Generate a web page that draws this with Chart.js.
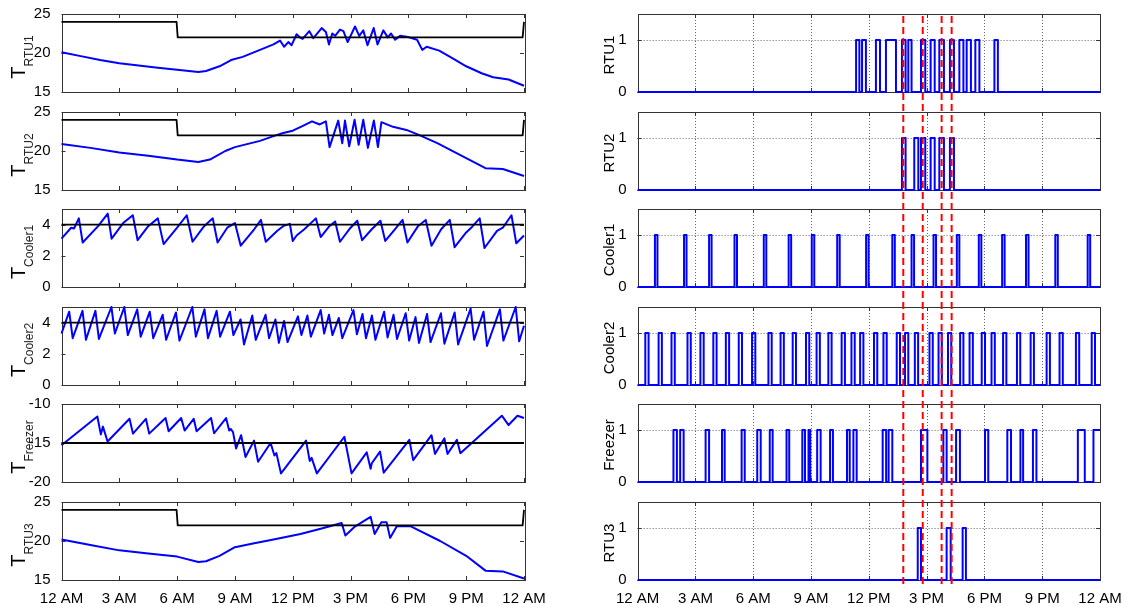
<!DOCTYPE html>
<html>
<head>
<meta charset="utf-8">
<script src="https://cdn.jsdelivr.net/npm/chart.js@4.4.1/dist/chart.umd.min.js"></script>
<style>
    body { margin: 0; background: #fff; width: 1127px; height: 604px; overflow: hidden; position: relative;
           font-family: "Liberation Sans", Arial, sans-serif; }
    canvas { position: absolute; }
    .yl { position: absolute; width: 120px; height: 30px; line-height: 30px; text-align: center;
          transform: rotate(-90deg); white-space: nowrap; color: #000; }
    .yl.t { font-size: 20px; }
    .yl.t .sb { font-size: 12px; position: relative; top: 8px; color: #222; }
    .yl.r { font-size: 15px; }
</style>
</head>
<body>
<script>
// ---- axis ticks ----
const hourTicks = [0, 3, 6, 9, 12, 15, 18, 21, 24];
const hourLabels = ['12 AM', '3 AM', '6 AM', '9 AM', '12 PM', '3 PM', '6 PM', '9 PM', '12 AM'];
const rtuTicks = [15, 20, 25];
const coolerTicks = [0, 2, 4];
const freezerTicks = [-20, -15, -10];
const onOffTicks = [0, 1];

// ---- setpoints (black) ----
const rtuSetpoint = [[0, 24], [5.97, 24], [6.03, 22], [23.93, 22], [24, 24]];
const coolerSetpoint = [[0, 4], [24, 4]];
const freezerSetpoint = [[0, -15], [24, -15]];

// ---- temperatures [hour, value] ----
const rtu1Temp = [[0, 20.1], [1, 19.6], [2, 19.1], [3, 18.7], [4, 18.4], [5, 18.1], [6, 17.85], [7.1, 17.55], [7.5, 17.7],
    [8.2, 18.3], [8.8, 19.1], [9.4, 19.5], [10.3, 20.4], [11.0, 21.1], [11.34, 21.6], [11.55, 20.8], [11.77, 21.4],
    [11.94, 21.0], [12.2, 22.4], [12.37, 22.0], [12.51, 21.8], [12.86, 22.8], [13.07, 21.9], [13.5, 23.2], [13.72, 22.7],
    [13.88, 21.1], [14.05, 22.5], [14.2, 22.2], [14.45, 23.0], [14.63, 22.8], [14.85, 21.4], [15.23, 23.4], [15.45, 22.2],
    [15.66, 22.9], [15.88, 21.0], [16.2, 23.2], [16.4, 21.1], [16.7, 22.9], [16.93, 22.0], [17.1, 22.5], [17.31, 21.7],
    [17.57, 22.2], [17.91, 22.1], [18.45, 21.7], [18.72, 20.4], [18.95, 20.8], [19.6, 20.3], [20.3, 19.3], [21, 18.3],
    [21.8, 17.4], [22.4, 16.9], [23.2, 16.6], [24, 15.8]];
const rtu2Temp = [[0, 20.9], [1.5, 20.4], [3, 19.8], [4.5, 19.4], [6, 18.9], [7.1, 18.6], [7.7, 18.9], [8.5, 20.0], [9, 20.5],
    [10.3, 21.3], [11, 21.9], [11.5, 22.3], [12, 22.6], [12.5, 23.2], [13, 23.8], [13.4, 23.4], [13.72, 23.8], [13.91, 20.5],
    [14.36, 23.9], [14.57, 21.0], [14.71, 23.9], [14.93, 20.6], [15.21, 24.0], [15.42, 20.8], [15.66, 24.0], [15.9, 20.4],
    [16.21, 23.9], [16.42, 20.5], [16.6, 23.7], [17.2, 23.1], [17.9, 22.7], [18.6, 22.0], [19.5, 21.0], [21, 19.1],
    [22, 17.8], [22.9, 17.7], [24, 16.8]];
const cooler1Temp = [[0, 3.1], [0.5, 3.8], [0.65, 3.75], [0.9, 4.4], [1.1, 2.85], [1.9, 3.9], [2.4, 4.7], [2.6, 3.1],
    [3.2, 4.1], [3.7, 4.6], [3.95, 3.0], [4.5, 3.9], [5.0, 4.4], [5.3, 2.75], [6.0, 3.8], [6.5, 4.6], [6.8, 2.9], [7.4, 3.9],
    [7.85, 4.4], [8.1, 2.85], [8.6, 3.8], [9.0, 4.1], [9.3, 2.65], [10.0, 3.7], [10.35, 4.3], [10.6, 2.9], [11.2, 3.6],
    [11.5, 3.9], [11.85, 4.05], [12.0, 2.95], [12.2, 3.3], [12.6, 3.7], [13.2, 4.4], [13.45, 3.2], [13.9, 3.9], [14.2, 4.2],
    [14.45, 2.9], [15.0, 3.8], [15.35, 4.25], [15.6, 3.0], [16.1, 3.7], [16.55, 4.25], [16.8, 2.95], [17.3, 3.7],
    [17.7, 4.3], [17.95, 2.85], [18.5, 3.9], [18.9, 4.3], [19.2, 2.65], [19.7, 3.7], [20.15, 4.3], [20.4, 2.55],
    [21.0, 3.5], [21.3, 3.85], [21.7, 4.4], [21.95, 2.5], [22.6, 3.6], [22.9, 3.8], [23.35, 4.6], [23.6, 2.8], [24, 3.3]];
const cooler2Temp = [[0, 3.3], [0.40, 4.7], [0.58, 3.0], [1.09, 4.75], [1.27, 2.9], [1.76, 4.75], [1.94, 2.95], [2.59, 5.0],
    [2.77, 3.3], [3.26, 5.0], [3.44, 3.2], [3.93, 4.85], [4.11, 3.1], [4.58, 4.7], [4.76, 3.0], [5.25, 4.5], [5.43, 2.9],
    [5.94, 4.65], [6.12, 2.85], [6.79, 5.0], [6.97, 3.1], [7.42, 4.85], [7.60, 3.0], [8.05, 4.75], [8.23, 3.1], [8.74, 4.7],
    [8.92, 3.2], [9.29, 4.2], [9.47, 2.6], [9.90, 4.45], [10.08, 2.9], [10.59, 4.5], [10.77, 3.0], [11.10, 4.2], [11.28, 2.7],
    [11.55, 4.1], [11.73, 2.75], [12.27, 4.4], [12.45, 3.2], [12.76, 4.45], [12.94, 3.1], [13.45, 4.8], [13.63, 3.3],
    [13.88, 4.5], [14.06, 3.2], [14.39, 4.3], [14.57, 3.0], [15.15, 4.8], [15.33, 3.25], [15.62, 4.55], [15.80, 3.0],
    [16.11, 4.45], [16.29, 2.9], [16.74, 4.7], [16.92, 3.05], [17.23, 4.5], [17.41, 2.95], [17.86, 4.6], [18.04, 2.85],
    [18.37, 4.35], [18.55, 2.7], [18.97, 4.55], [19.15, 2.75], [19.69, 4.6], [19.87, 2.65], [20.40, 4.65], [20.58, 2.6],
    [21.23, 4.9], [21.41, 2.9], [21.90, 4.7], [22.08, 2.5], [22.75, 4.85], [22.93, 2.85], [23.57, 5.0], [23.75, 2.8], [24, 3.8]];
const freezerTemp = [[0, -15.3], [1.86, -11.6], [2.04, -13.9], [2.15, -12.9], [2.39, -14.8], [3.53, -11.9], [3.71, -13.8],
    [4.38, -11.9], [4.55, -13.8], [5.40, -11.8], [5.56, -13.5], [6.21, -11.8], [6.39, -13.4], [6.86, -11.9], [7.01, -13.5],
    [7.76, -11.8], [7.92, -13.75], [8.54, -11.8], [8.70, -13.4], [8.78, -13.2], [8.90, -13.6], [9.06, -15.7], [9.32, -14.0],
    [9.55, -16.8], [9.99, -14.7], [10.2, -17.4], [10.85, -15.0], [11.05, -16.6], [11.15, -16.3], [11.39, -18.9],
    [12.69, -14.7], [12.88, -17.3], [12.98, -16.9], [13.25, -18.9], [14.68, -14.2], [15.05, -18.9], [15.84, -16.2],
    [16.04, -18.3], [16.10, -17.6], [16.53, -16.1], [16.72, -18.8], [18.05, -14.6], [18.25, -17.2], [19.2, -14.0],
    [19.38, -16.4], [19.87, -14.4], [20.03, -16.4], [20.52, -14.6], [20.70, -16.3], [22.85, -11.5], [23.2, -12.7],
    [23.66, -11.5], [24, -11.8]];
const rtu3Temp = [[0, 20.2], [1.5, 19.5], [3, 18.8], [4.5, 18.4], [6, 18.0], [7.1, 17.3], [7.5, 17.4], [8.2, 18.1], [9, 19.2],
    [10, 19.7], [11, 20.2], [12.4, 20.9], [13.5, 21.6], [14.54, 22.3], [14.73, 20.7], [15.2, 21.8], [16.04, 23.1],
    [16.25, 20.9], [16.6, 22.4], [16.87, 22.4], [17.05, 20.4], [17.4, 21.9], [18.1, 21.9], [19.65, 20.0], [21, 18.1],
    [22, 16.2], [22.9, 16.1], [24, 15.2]];

// ---- on periods [start, end] in hours ----
const rtu1On = [[11.34, 11.51], [11.65, 11.85], [12.37, 12.58], [12.89, 13.41], [13.72, 13.91], [14.05, 14.22], [14.71, 14.93],
    [15.21, 15.42], [15.66, 15.90], [16.21, 16.42], [16.70, 16.91], [17.08, 17.30], [17.53, 17.74], [18.52, 18.70]];
const rtu2On = [[13.72, 13.91], [14.36, 14.57], [14.71, 14.93], [15.21, 15.42], [15.66, 15.90], [16.21, 16.42]];
const cooler1On = [[0.90, 1.03], [2.41, 2.54], [3.71, 3.84], [5.03, 5.16], [6.55, 6.68], [7.84, 7.97], [9.04, 9.17],
    [10.36, 10.49], [11.86, 11.99], [13.22, 13.35], [14.22, 14.35], [15.36, 15.49], [16.57, 16.70], [17.71, 17.84],
    [18.92, 19.05], [20.16, 20.29], [21.68, 21.81], [23.36, 23.49]];
const cooler2On = [[0.40, 0.57], [1.09, 1.26], [1.76, 1.93], [2.59, 2.76], [3.26, 3.43], [3.93, 4.10], [4.58, 4.75],
    [5.25, 5.42], [5.94, 6.11], [6.79, 6.96], [7.42, 7.59], [8.05, 8.22], [8.74, 8.91], [9.29, 9.46], [9.90, 10.07],
    [10.59, 10.76], [11.10, 11.27], [11.55, 11.72], [12.27, 12.44], [12.76, 12.93], [13.45, 13.62], [13.88, 14.05],
    [14.39, 14.56], [15.15, 15.32], [15.62, 15.79], [16.11, 16.28], [16.74, 16.91], [17.23, 17.40], [17.86, 18.03],
    [18.37, 18.54], [18.97, 19.14], [19.69, 19.86], [20.40, 20.57], [21.23, 21.40], [21.90, 22.07], [22.75, 22.92],
    [23.57, 23.74]];
const freezerOn = [[1.86, 2.04], [2.21, 2.39], [3.53, 3.71], [4.38, 4.52], [5.40, 5.56], [6.21, 6.39], [6.86, 7.01],
    [7.73, 7.87], [8.55, 8.69], [8.87, 8.96], [9.32, 9.50], [9.99, 10.14], [10.87, 11.01], [11.20, 11.37], [12.72, 12.90],
    [13.03, 13.22], [14.71, 15.04], [15.87, 16.04], [16.53, 16.73], [18.03, 18.20], [19.19, 19.38], [19.87, 20.01],
    [20.52, 20.70], [22.85, 23.21], [23.66, 24]];
const rtu3On = [[14.54, 14.71], [16.04, 16.25], [16.87, 17.04]];

// red dashed event markers (hours)
const redMarks = [13.79, 14.80, 15.78, 16.30];

// ---- layout ----
const PANEL_TOPS = [14, 111.5, 209, 306.5, 404, 501.5];
const PANEL_H = 78;
const BLUE = '#0000ff';
const FONT = '"Liberation Sans", Arial, sans-serif';

Chart.defaults.font.family = FONT;
Chart.defaults.font.size = 15;
Chart.defaults.color = '#000';

const toXY = pairs => pairs.map(([x, y]) => ({ x, y }));

// builds square-wave points from on periods
function onOffSeries(periods) {
    const pts = [[0, 0]];
    periods.forEach(([a, b]) => {
        pts.push([a, 0], [a, 1], [b, 1]);
        if (b < 24) pts.push([b, 0]);
    });
    if (pts[pts.length - 1][0] < 24) pts.push([24, 0]);
    return toXY(pts);
}

// MATLAB-like box, inward ticks and optional dotted grid
const boxPlugin = {
    id: 'box',
    beforeDatasetsDraw(chart, args, opts) {
        const { ctx, chartArea: a, scales: { x, y } } = chart;
        ctx.save();
        if (opts.grid) {
            ctx.strokeStyle = '#666';
            ctx.lineWidth = 1;
            ctx.setLineDash([1, 2]);
            ctx.beginPath();
            x.ticks.forEach(t => {
                const px = Math.round(x.getPixelForValue(t.value)) + 0.5;
                ctx.moveTo(px, a.top); ctx.lineTo(px, a.bottom);
            });
            y.ticks.forEach(t => {
                const py = Math.round(y.getPixelForValue(t.value)) + 0.5;
                ctx.moveTo(a.left, py); ctx.lineTo(a.right, py);
            });
            ctx.stroke();
            ctx.setLineDash([]);
        }
        ctx.strokeStyle = '#333';
        ctx.lineWidth = 1;
        ctx.beginPath();
        x.ticks.forEach(t => {
            const px = Math.round(x.getPixelForValue(t.value)) + 0.5;
            ctx.moveTo(px, a.bottom); ctx.lineTo(px, a.bottom - 4);
            ctx.moveTo(px, a.top); ctx.lineTo(px, a.top + 4);
        });
        y.ticks.forEach(t => {
            const py = Math.round(y.getPixelForValue(t.value)) + 0.5;
            ctx.moveTo(a.left, py); ctx.lineTo(a.left + 4, py);
            ctx.moveTo(a.right, py); ctx.lineTo(a.right - 4, py);
        });
        ctx.stroke();
        ctx.strokeRect(Math.round(a.left) + 0.5, Math.round(a.top) + 0.5, Math.round(a.width), Math.round(a.height));
        ctx.restore();
    }
};

function makePanel(p) {
    const c = document.createElement('canvas');
    const h = p.bottom ? 118 : 98;
    c.width = p.w; c.height = h;
    c.style.left = p.left + 'px';
    c.style.top = (p.top - 10) + 'px';
    document.body.appendChild(c);

    new Chart(c, {
        type: 'line',
        data: { datasets: p.datasets },
        options: {
            responsive: false, animation: false, devicePixelRatio: 1,
            layout: { padding: { left: 0, right: p.padRight, top: 10, bottom: p.bottom ? 0 : 10 } },
            plugins: { legend: { display: false }, tooltip: { enabled: false }, box: { grid: p.grid } },
            elements: { point: { radius: 0 }, line: { tension: 0, borderJoinStyle: 'round' } },
            scales: {
                x: {
                    type: 'linear', min: 0, max: 24,
                    grid: { display: false }, border: { display: false },
                    afterBuildTicks: s => { s.ticks = hourTicks.map(v => ({ value: v })); },
                    ticks: {
                        display: !!p.bottom, autoSkip: false, maxRotation: 0, padding: 2,
                        callback: v => hourLabels[hourTicks.indexOf(v)]
                    },
                    afterFit: s => { s.height = p.bottom ? 30 : 0; s.paddingLeft = 0; s.paddingRight = 0; }
                },
                y: {
                    min: p.yMin, max: p.yMax,
                    grid: { display: false }, border: { display: false },
                    afterBuildTicks: s => { s.ticks = p.yTicks.map(v => ({ value: v })); },
                    ticks: { padding: 3 },
                    afterFit: s => { s.width = p.yWidth; s.paddingTop = 0; s.paddingBottom = 0; }
                }
            }
        },
        plugins: [boxPlugin]
    });
}

function line(data, color, width, clip) {
    return { data: toXY(data), borderColor: color, borderWidth: width, pointRadius: 0, fill: false, clip: clip };
}

// ---- left column: temperatures ----
const leftPanels = [
    { sub: 'RTU1', temp: rtu1Temp, set: rtuSetpoint, yMin: 15, yMax: 25, yTicks: rtuTicks },
    { sub: 'RTU2', temp: rtu2Temp, set: rtuSetpoint, yMin: 15, yMax: 25, yTicks: rtuTicks },
    { sub: 'Cooler1', temp: cooler1Temp, set: coolerSetpoint, yMin: 0, yMax: 5, yTicks: coolerTicks },
    { sub: 'Cooler2', temp: cooler2Temp, set: coolerSetpoint, yMin: 0, yMax: 5, yTicks: coolerTicks },
    { sub: 'Freezer', temp: freezerTemp, set: freezerSetpoint, yMin: -20, yMax: -10, yTicks: freezerTicks },
    { sub: 'RTU3', temp: rtu3Temp, set: rtuSetpoint, yMin: 15, yMax: 25, yTicks: rtuTicks }
];

leftPanels.forEach((lp, i) => {
    makePanel({
        left: 0, top: PANEL_TOPS[i], w: 560, padRight: 36, yWidth: 61.5, bottom: i === 5, grid: false,
        yMin: lp.yMin, yMax: lp.yMax, yTicks: lp.yTicks,
        datasets: [line(lp.set, '#000', 1.8, 2), line(lp.temp, BLUE, 2, 2)]
    });
    const lab = document.createElement('div');
    lab.className = 'yl t';
    lab.innerHTML = 'T<span class="sb">' + lp.sub + '</span>';
    lab.style.left = (17.5 - 60) + 'px';
    lab.style.top = (PANEL_TOPS[i] + PANEL_H / 2 + 4 - 15) + 'px';
    document.body.appendChild(lab);
});

// ---- right column: on/off states ----
const rightPanels = [
    { name: 'RTU1', on: rtu1On },
    { name: 'RTU2', on: rtu2On },
    { name: 'Cooler1', on: cooler1On },
    { name: 'Cooler2', on: cooler2On },
    { name: 'Freezer', on: freezerOn },
    { name: 'RTU3', on: rtu3On }
];

rightPanels.forEach((rp, i) => {
    makePanel({
        left: 560, top: PANEL_TOPS[i], w: 567, padRight: 27, yWidth: 77.6, bottom: i === 5, grid: true,
        yMin: 0, yMax: 1.5, yTicks: onOffTicks,
        datasets: [{ data: onOffSeries(rp.on), borderColor: BLUE, borderWidth: 2, pointRadius: 0, fill: false, clip: 4 }]
    });
    const lab = document.createElement('div');
    lab.className = 'yl r';
    lab.textContent = rp.name;
    lab.style.left = (609 - 60) + 'px';
    lab.style.top = (PANEL_TOPS[i] + PANEL_H / 2 + 2 - 15) + 'px';
    document.body.appendChild(lab);
});

// ---- red dashed markers across the right column ----
const ov = document.createElement('canvas');
ov.width = 567; ov.height = 604;
ov.style.left = '560px'; ov.style.top = '0px'; ov.style.zIndex = 5; ov.style.pointerEvents = 'none';
document.body.appendChild(ov);
new Chart(ov, {
    type: 'line',
    data: {
        datasets: redMarks.map(t => ({
            data: [{ x: t, y: 0 }, { x: t, y: 1 }],
            borderColor: '#ff0000', borderWidth: 2, borderDash: [7, 4], pointRadius: 0, fill: false
        }))
    },
    options: {
        responsive: false, animation: false, devicePixelRatio: 1,
        layout: { padding: { left: 77.6, right: 27, top: 15, bottom: 20 } },
        plugins: { legend: { display: false }, tooltip: { enabled: false } },
        scales: {
            x: { type: 'linear', min: 0, max: 24, display: false },
            y: { min: 0, max: 1, display: false }
        }
    }
});
</script>
</body>
</html>
